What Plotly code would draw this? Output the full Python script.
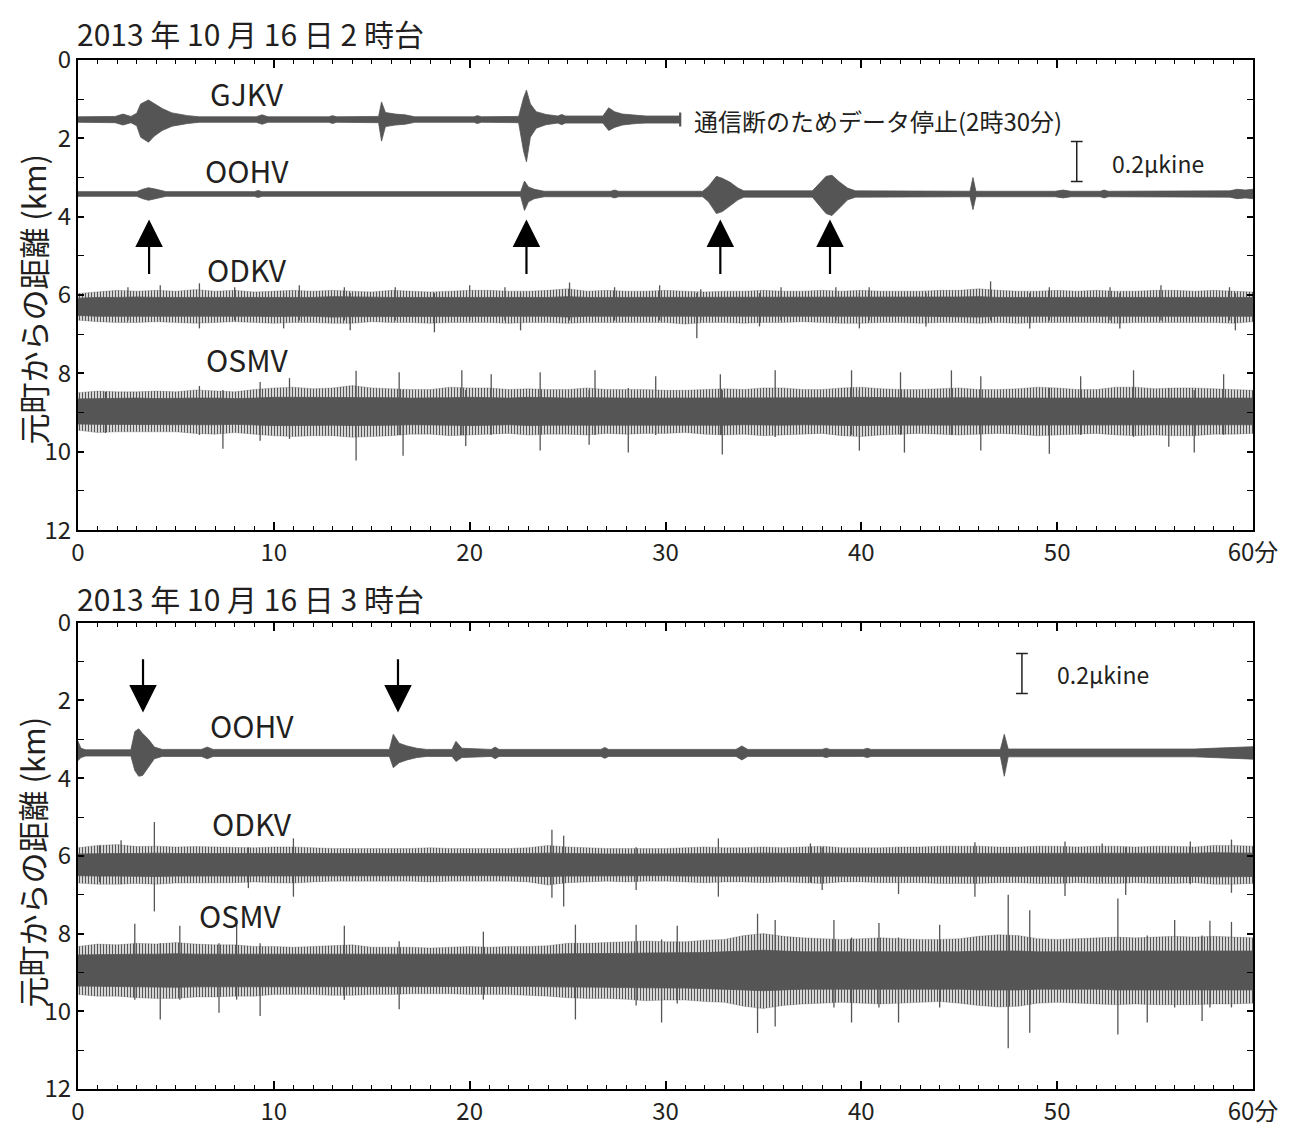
import plotly.graph_objects as go

# ---------------- DATA ----------------
# Top panel: 2013-10-16 02h ; Bottom panel: 03h.  x = minutes, y = distance (km)

# --- top panel, GJKV (baseline 1.52 km, data stops at 30.75 min)
gj_base = 1.52
gj_t    = [0, 1.9, 2.3, 2.7, 3.0, 3.2, 3.6, 3.9, 4.3, 4.8, 5.6, 6.2, 9.1, 9.4, 9.7, 12.8, 13.0, 13.2,
           15.35, 15.5, 15.7, 16.2, 16.7, 17.2, 20.2, 20.4, 20.6, 22.5, 22.75, 22.9, 23.1, 23.4, 23.9,
           24.5, 24.7, 24.9, 26.8, 27.1, 27.4, 27.8, 28.5, 29.0, 30.75]
gj_up   = [0.07, 0.08, 0.14, 0.08, 0.16, 0.40, 0.50, 0.40, 0.28, 0.17, 0.10, 0.07, 0.07, 0.12, 0.07, 0.07, 0.10, 0.07,
           0.08, 0.45, 0.18, 0.14, 0.12, 0.07, 0.07, 0.10, 0.07, 0.08, 0.55, 0.75, 0.40, 0.20, 0.13,
           0.09, 0.13, 0.09, 0.09, 0.30, 0.20, 0.14, 0.10, 0.09, 0.09]
gj_down = [0.07, 0.08, 0.14, 0.08, 0.16, 0.45, 0.58, 0.42, 0.28, 0.17, 0.10, 0.07, 0.07, 0.12, 0.07, 0.07, 0.10, 0.07,
           0.08, 0.55, 0.18, 0.14, 0.12, 0.07, 0.07, 0.10, 0.07, 0.08, 0.80, 1.08, 0.45, 0.22, 0.13,
           0.09, 0.13, 0.09, 0.09, 0.28, 0.20, 0.14, 0.10, 0.09, 0.09]
gj_end  = [30.75, 1.34, 1.70]   # end-of-data tick (time, top km, bottom km)

# --- top panel, OOHV (baseline 3.42 km)
oo1_base = 3.42
oo1_t    = [0, 3.0, 3.3, 3.6, 4.0, 4.5, 9.0, 9.2, 9.4, 22.6, 22.8, 23.0, 23.3, 23.8, 27.2, 27.4, 27.6,
            31.9, 32.2, 32.6, 32.9, 33.3, 33.7, 34.0, 37.5, 37.8, 38.2, 38.5, 38.9, 39.3, 39.7,
            45.55, 45.7, 45.85, 49.9, 50.3, 50.7, 52.2, 52.4, 52.6, 58.8, 59.2, 59.6, 60]
oo1_up   = [0.06, 0.06, 0.12, 0.16, 0.12, 0.06, 0.06, 0.09, 0.06, 0.06, 0.33, 0.18, 0.12, 0.07, 0.07, 0.10, 0.07,
            0.07, 0.20, 0.45, 0.40, 0.30, 0.15, 0.08, 0.08, 0.25, 0.45, 0.48, 0.30, 0.15, 0.08,
            0.07, 0.42, 0.07, 0.07, 0.10, 0.07, 0.07, 0.10, 0.07, 0.08, 0.12, 0.10, 0.12]
oo1_down = [0.06, 0.06, 0.12, 0.16, 0.12, 0.06, 0.06, 0.09, 0.06, 0.06, 0.42, 0.20, 0.12, 0.07, 0.07, 0.10, 0.07,
            0.07, 0.20, 0.50, 0.45, 0.30, 0.15, 0.08, 0.08, 0.25, 0.50, 0.55, 0.35, 0.15, 0.08,
            0.07, 0.40, 0.07, 0.07, 0.10, 0.07, 0.07, 0.10, 0.07, 0.08, 0.12, 0.10, 0.12]

minutes = list(range(61))

# --- top panel, ODKV (baseline 6.30 km): per-minute core / fringe half widths, plus spikes
od1_base = 6.30
od1_core = [0.22, 0.24, 0.24, 0.25, 0.24, 0.24, 0.25, 0.24, 0.24, 0.24, 0.25, 0.24, 0.24, 0.26, 0.25, 0.24,
            0.24, 0.24, 0.24, 0.24, 0.24, 0.25, 0.24, 0.24, 0.24, 0.26, 0.24, 0.24, 0.24, 0.24, 0.24, 0.25,
            0.24, 0.24, 0.25, 0.24, 0.24, 0.24, 0.25, 0.24, 0.24, 0.24, 0.24, 0.24, 0.24, 0.25, 0.26, 0.24,
            0.24, 0.24, 0.24, 0.25, 0.24, 0.24, 0.24, 0.25, 0.24, 0.24, 0.24, 0.24, 0.24]
od1_fr_up = [0.34, 0.38, 0.42, 0.40, 0.42, 0.40, 0.44, 0.40, 0.42, 0.38, 0.40, 0.42, 0.40, 0.42, 0.40, 0.38,
             0.42, 0.40, 0.38, 0.40, 0.42, 0.42, 0.40, 0.40, 0.42, 0.46, 0.40, 0.42, 0.40, 0.40, 0.42, 0.40,
             0.38, 0.40, 0.40, 0.42, 0.40, 0.40, 0.42, 0.40, 0.42, 0.40, 0.40, 0.40, 0.42, 0.42, 0.46, 0.42,
             0.40, 0.40, 0.42, 0.40, 0.42, 0.40, 0.40, 0.42, 0.42, 0.40, 0.42, 0.40, 0.38]
od1_fr_dn = [0.34, 0.38, 0.40, 0.40, 0.38, 0.40, 0.42, 0.40, 0.38, 0.40, 0.42, 0.40, 0.40, 0.42, 0.42, 0.38,
             0.40, 0.40, 0.42, 0.40, 0.40, 0.40, 0.42, 0.40, 0.40, 0.42, 0.40, 0.40, 0.40, 0.40, 0.40, 0.44,
             0.40, 0.40, 0.42, 0.40, 0.40, 0.38, 0.40, 0.42, 0.42, 0.40, 0.40, 0.42, 0.40, 0.40, 0.42, 0.40,
             0.42, 0.40, 0.40, 0.40, 0.40, 0.42, 0.40, 0.40, 0.40, 0.40, 0.40, 0.42, 0.38]
od1_sp_t  = [2.55, 4.2, 6.2, 8.0, 10.5, 11.3, 13.6, 13.9, 16.2, 18.2, 20.0, 21.8, 22.6, 25.1, 27.4, 29.7,
             31.6, 31.8, 34.8, 35.9, 38.7, 39.9, 40.4, 43.3, 46.6, 48.6, 49.6, 52.7, 53.2, 55.3, 58.8, 59.1]
od1_sp_up = [0.50, 0.55, 0.60, 0.50, 0.35, 0.55, 0.50, 0.35, 0.50, 0.35, 0.55, 0.50, 0.35, 0.62, 0.50, 0.55,
             0.35, 0.45, 0.35, 0.50, 0.50, 0.35, 0.50, 0.35, 0.65, 0.35, 0.50, 0.50, 0.35, 0.55, 0.50, 0.35]
od1_sp_dn = [0.35, 0.35, 0.55, 0.35, 0.55, 0.35, 0.35, 0.60, 0.35, 0.65, 0.35, 0.35, 0.60, 0.35, 0.35, 0.35,
             0.80, 0.35, 0.50, 0.35, 0.35, 0.55, 0.35, 0.50, 0.35, 0.55, 0.35, 0.35, 0.55, 0.35, 0.35, 0.60]

# --- top panel, OSMV (baseline 8.97 km)
os1_base = 8.97
os1_core = [0.32, 0.33, 0.33, 0.34, 0.33, 0.34, 0.34, 0.34, 0.33, 0.34, 0.36, 0.36, 0.36, 0.35, 0.36, 0.36,
            0.35, 0.34, 0.34, 0.35, 0.36, 0.35, 0.34, 0.36, 0.35, 0.34, 0.35, 0.34, 0.34, 0.34, 0.34, 0.34,
            0.35, 0.35, 0.34, 0.34, 0.35, 0.34, 0.34, 0.35, 0.36, 0.35, 0.34, 0.34, 0.34, 0.35, 0.34, 0.34,
            0.35, 0.35, 0.34, 0.34, 0.34, 0.35, 0.35, 0.34, 0.35, 0.35, 0.34, 0.34, 0.34]
os1_fr_up = [0.48, 0.52, 0.50, 0.50, 0.52, 0.50, 0.55, 0.52, 0.50, 0.56, 0.60, 0.62, 0.58, 0.60, 0.66, 0.60,
             0.58, 0.56, 0.56, 0.62, 0.60, 0.60, 0.56, 0.58, 0.56, 0.56, 0.60, 0.56, 0.56, 0.56, 0.54, 0.54,
             0.56, 0.58, 0.56, 0.60, 0.60, 0.56, 0.56, 0.60, 0.62, 0.58, 0.56, 0.56, 0.58, 0.60, 0.56, 0.56,
             0.58, 0.62, 0.60, 0.56, 0.56, 0.62, 0.62, 0.58, 0.60, 0.60, 0.58, 0.56, 0.54]
os1_fr_dn = [0.48, 0.54, 0.52, 0.52, 0.52, 0.52, 0.56, 0.58, 0.54, 0.58, 0.62, 0.64, 0.62, 0.62, 0.66, 0.64,
             0.62, 0.58, 0.58, 0.62, 0.60, 0.58, 0.56, 0.60, 0.58, 0.58, 0.60, 0.56, 0.58, 0.56, 0.56, 0.54,
             0.58, 0.60, 0.58, 0.62, 0.60, 0.58, 0.56, 0.62, 0.64, 0.60, 0.58, 0.56, 0.58, 0.60, 0.58, 0.56,
             0.58, 0.62, 0.60, 0.58, 0.56, 0.60, 0.62, 0.60, 0.62, 0.62, 0.58, 0.58, 0.56]
os1_sp_t  = [1.4, 6.2, 7.4, 9.3, 10.8, 14.2, 16.4, 16.6, 19.6, 19.8, 21.1, 23.6, 26.1, 26.4, 28.1, 29.5,
             32.8, 32.9, 35.6, 39.5, 39.9, 42.0, 42.2, 44.6, 46.1, 49.6, 51.2, 53.9, 55.7, 57.0, 58.5]
os1_sp_up = [0.50, 0.65, 0.55, 0.75, 0.85, 1.04, 1.00, 0.55, 1.05, 0.55, 0.95, 1.00, 0.55, 1.05, 0.60, 0.90,
             0.95, 0.55, 1.05, 1.05, 0.55, 1.00, 0.55, 1.05, 0.90, 0.60, 0.90, 1.05, 0.60, 0.55, 0.95]
os1_sp_dn = [0.55, 0.60, 0.95, 0.75, 0.70, 1.25, 0.60, 1.13, 0.60, 0.88, 0.60, 1.00, 0.85, 0.60, 1.05, 0.60,
             0.60, 1.10, 0.65, 0.60, 1.00, 0.60, 1.05, 0.60, 1.00, 1.08, 0.60, 0.65, 0.90, 1.05, 0.60]

# --- bottom panel, OOHV (baseline 3.35 km)
oo2_base = 3.35
oo2_t    = [0, 0.15, 0.4, 2.7, 2.9, 3.1, 3.3, 3.6, 3.9, 4.3, 6.3, 6.6, 6.9, 15.9, 16.1, 16.4, 16.8, 17.3, 17.8,
            19.1, 19.3, 19.6, 21.1, 21.3, 21.5, 26.7, 26.9, 27.1, 33.6, 33.9, 34.2, 38.0, 38.2, 38.4,
            40.1, 40.3, 40.5, 47.1, 47.3, 47.5, 48.0, 57.0, 58.5, 60]
oo2_up   = [0.30, 0.12, 0.08, 0.08, 0.55, 0.62, 0.50, 0.35, 0.15, 0.09, 0.09, 0.15, 0.09, 0.09, 0.48, 0.25, 0.18,
            0.12, 0.09, 0.09, 0.30, 0.12, 0.09, 0.15, 0.09, 0.09, 0.14, 0.09, 0.09, 0.18, 0.09, 0.09, 0.12,
            0.09, 0.09, 0.12, 0.09, 0.09, 0.48, 0.10, 0.10, 0.10, 0.13, 0.16]
oo2_down = [0.20, 0.12, 0.08, 0.08, 0.45, 0.60, 0.58, 0.35, 0.15, 0.09, 0.09, 0.15, 0.09, 0.09, 0.38, 0.25, 0.18,
            0.12, 0.09, 0.09, 0.22, 0.12, 0.09, 0.15, 0.09, 0.09, 0.14, 0.09, 0.09, 0.18, 0.09, 0.09, 0.12,
            0.09, 0.09, 0.12, 0.09, 0.09, 0.60, 0.10, 0.10, 0.10, 0.13, 0.16]

# --- bottom panel, ODKV (baseline 6.23 km)
od2_base = 6.23
od2_core = [0.28, 0.29, 0.29, 0.29, 0.30, 0.29, 0.29, 0.29, 0.29, 0.28, 0.29, 0.29, 0.29, 0.28, 0.28, 0.29,
            0.28, 0.28, 0.29, 0.28, 0.28, 0.28, 0.28, 0.29, 0.30, 0.29, 0.28, 0.28, 0.28, 0.28, 0.28, 0.29,
            0.29, 0.29, 0.29, 0.30, 0.29, 0.29, 0.30, 0.29, 0.29, 0.29, 0.29, 0.29, 0.30, 0.30, 0.30, 0.29,
            0.29, 0.30, 0.30, 0.29, 0.30, 0.30, 0.30, 0.30, 0.30, 0.30, 0.31, 0.31, 0.30]
od2_fr_up = [0.44, 0.50, 0.52, 0.47, 0.48, 0.46, 0.47, 0.46, 0.44, 0.44, 0.46, 0.46, 0.44, 0.42, 0.42, 0.42,
             0.42, 0.42, 0.44, 0.42, 0.42, 0.42, 0.42, 0.44, 0.50, 0.46, 0.44, 0.42, 0.42, 0.42, 0.42, 0.44,
             0.46, 0.44, 0.44, 0.46, 0.44, 0.46, 0.48, 0.44, 0.44, 0.44, 0.46, 0.46, 0.48, 0.48, 0.48, 0.46,
             0.46, 0.48, 0.48, 0.46, 0.48, 0.48, 0.46, 0.48, 0.48, 0.46, 0.50, 0.50, 0.48]
od2_fr_dn = [0.47, 0.50, 0.50, 0.48, 0.50, 0.47, 0.47, 0.46, 0.46, 0.44, 0.46, 0.47, 0.44, 0.42, 0.42, 0.42,
             0.42, 0.42, 0.44, 0.42, 0.42, 0.42, 0.42, 0.44, 0.52, 0.46, 0.44, 0.42, 0.44, 0.42, 0.42, 0.44,
             0.46, 0.44, 0.44, 0.46, 0.44, 0.46, 0.48, 0.44, 0.44, 0.46, 0.46, 0.46, 0.48, 0.48, 0.48, 0.46,
             0.46, 0.48, 0.48, 0.46, 0.48, 0.48, 0.46, 0.48, 0.48, 0.46, 0.50, 0.50, 0.48]
od2_sp_t  = [1.1, 2.2, 3.9, 8.7, 11.0, 24.2, 24.8, 28.5, 32.7, 37.4, 38.0, 41.9, 45.8, 50.4, 52.3, 53.5, 56.8, 58.9]
od2_sp_up = [0.50, 0.63, 1.10, 0.45, 0.68, 0.90, 0.75, 0.45, 0.68, 0.55, 0.45, 0.45, 0.58, 0.60, 0.55, 0.45, 0.60, 0.65]
od2_sp_dn = [0.45, 0.50, 1.20, 0.60, 0.82, 0.85, 1.07, 0.65, 0.82, 0.45, 0.65, 0.75, 0.82, 0.80, 0.45, 0.78, 0.50, 0.72]

# --- bottom panel, OSMV (baseline 8.95 km)
os2_base = 8.95
os2_core = [0.40, 0.41, 0.41, 0.42, 0.42, 0.43, 0.42, 0.42, 0.42, 0.41, 0.41, 0.41, 0.41, 0.42, 0.42, 0.41,
            0.41, 0.41, 0.41, 0.41, 0.41, 0.41, 0.41, 0.41, 0.42, 0.43, 0.43, 0.43, 0.44, 0.45, 0.45, 0.45,
            0.46, 0.48, 0.50, 0.52, 0.50, 0.48, 0.48, 0.48, 0.48, 0.48, 0.48, 0.48, 0.48, 0.48, 0.50, 0.50,
            0.50, 0.48, 0.48, 0.48, 0.48, 0.50, 0.50, 0.50, 0.50, 0.50, 0.50, 0.50, 0.50]
os2_fr_up = [0.62, 0.68, 0.66, 0.70, 0.68, 0.72, 0.68, 0.66, 0.66, 0.62, 0.62, 0.60, 0.62, 0.64, 0.66, 0.60,
             0.60, 0.60, 0.58, 0.60, 0.62, 0.60, 0.62, 0.62, 0.64, 0.70, 0.70, 0.72, 0.74, 0.76, 0.74, 0.74,
             0.78, 0.80, 0.90, 0.95, 0.88, 0.84, 0.82, 0.80, 0.82, 0.84, 0.82, 0.80, 0.80, 0.82, 0.88, 0.92,
             0.90, 0.82, 0.80, 0.82, 0.84, 0.86, 0.84, 0.86, 0.88, 0.86, 0.88, 0.86, 0.84]
os2_fr_dn = [0.62, 0.66, 0.66, 0.70, 0.72, 0.72, 0.68, 0.68, 0.66, 0.66, 0.62, 0.62, 0.62, 0.64, 0.64, 0.62,
             0.62, 0.60, 0.60, 0.60, 0.62, 0.62, 0.62, 0.64, 0.66, 0.70, 0.72, 0.72, 0.74, 0.78, 0.76, 0.76,
             0.80, 0.82, 0.92, 0.98, 0.90, 0.86, 0.84, 0.82, 0.84, 0.86, 0.84, 0.82, 0.80, 0.84, 0.90, 0.94,
             0.92, 0.84, 0.82, 0.84, 0.86, 0.88, 0.86, 0.88, 0.88, 0.88, 0.86, 0.86, 0.84]
os2_sp_t  = [2.9, 4.2, 5.2, 7.2, 8.1, 9.3, 13.6, 16.4, 20.7, 25.4, 28.5, 29.8, 30.6, 34.7, 35.6, 38.6, 39.5,
             40.9, 41.9, 44.0, 47.5, 48.6, 53.1, 54.6, 56.0, 57.4, 57.8, 58.9]
os2_sp_up = [1.20, 0.70, 1.15, 0.70, 1.18, 0.70, 1.15, 0.75, 1.00, 1.18, 1.18, 0.80, 1.15, 1.46, 1.30, 1.30, 0.85,
             1.22, 0.85, 1.18, 1.95, 1.55, 1.85, 0.90, 1.30, 0.90, 1.28, 1.25]
os2_sp_dn = [0.75, 1.26, 0.75, 1.09, 0.75, 1.17, 0.75, 1.00, 0.75, 1.26, 0.90, 1.34, 0.85, 1.61, 1.44, 0.95, 1.34,
             0.95, 1.34, 0.95, 2.00, 1.60, 1.65, 1.34, 0.95, 1.30, 0.95, 0.95]

# arrows: (time, tail km, tip km)
arr1_t = [3.63, 22.9, 32.8, 38.4]
arr1_tail, arr1_tip = 5.5, 4.07
arr2_t = [3.32, 16.34]
arr2_tail, arr2_tip = 0.9, 2.31

# scale bars: (time, top km, bottom km)
bar1 = [51.0, 2.08, 3.10]
bar2 = [48.2, 0.79, 1.82]

# tick labels
x_tickvals = [0, 10, 20, 30, 40, 50, 60]
x_ticktext = ["0", "10", "20", "30", "40", "50", "60分"]
y_tickvals = [0, 2, 4, 6, 8, 10, 12]

titles = ["2013 年 10 月 16 日 2 時台", "2013 年 10 月 16 日 3 時台"]
ytitle = "元町からの距離 (km)"

# ---------------- FIGURE ----------------
FONT = "Noto Sans CJK JP"
TRACE = "#555555"
INK = "#231f20"

fig = go.Figure()


def band(t, up, dn, base, xa, ya, pattern=False, lw=0.8):
    xs = list(t) + list(t)[::-1]
    ys = [base - u for u in up] + [base + d for d in dn][::-1]
    kw = {}
    if pattern:
        kw["fillpattern"] = dict(shape="|", size=3, solidity=0.5, fgcolor=TRACE, bgcolor="white",
                                 fillmode="replace")
        line = dict(color="rgba(85,85,85,0.45)", width=0.6)
    else:
        kw["fillcolor"] = TRACE
        line = dict(color=TRACE, width=lw)
    fig.add_trace(go.Scatter(x=xs, y=ys, fill="toself", mode="lines", line=line,
                             hoverinfo="skip", showlegend=False, xaxis=xa, yaxis=ya, **kw))


def spikes(ts, ups, dns, base, xa, ya, color=TRACE, lw=1.3):
    xs, ys = [], []
    for t, u, d in zip(ts, ups, dns):
        xs += [t, t, None]
        ys += [base - u, base + d, None]
    fig.add_trace(go.Scatter(x=xs, y=ys, mode="lines", line=dict(color=color, width=lw),
                             hoverinfo="skip", showlegend=False, xaxis=xa, yaxis=ya))


# top panel
band(gj_t, gj_up, gj_down, gj_base, "x", "y")
fig.add_trace(go.Scatter(x=[gj_end[0], gj_end[0]], y=[gj_end[1], gj_end[2]], mode="lines",
                         line=dict(color=TRACE, width=2.2), showlegend=False, xaxis="x", yaxis="y"))
band(oo1_t, oo1_up, oo1_down, oo1_base, "x", "y")
band(minutes, od1_fr_up, od1_fr_dn, od1_base, "x", "y", pattern=True)
spikes(od1_sp_t, od1_sp_up, od1_sp_dn, od1_base, "x", "y")
band(minutes, od1_core, od1_core, od1_base, "x", "y")
band(minutes, os1_fr_up, os1_fr_dn, os1_base, "x", "y", pattern=True)
spikes(os1_sp_t, os1_sp_up, os1_sp_dn, os1_base, "x", "y")
band(minutes, os1_core, os1_core, os1_base, "x", "y")

# bottom panel
band(oo2_t, oo2_up, oo2_down, oo2_base, "x2", "y2")
band(minutes, od2_fr_up, od2_fr_dn, od2_base, "x2", "y2", pattern=True)
spikes(od2_sp_t, od2_sp_up, od2_sp_dn, od2_base, "x2", "y2")
band(minutes, od2_core, od2_core, od2_base, "x2", "y2")
band(minutes, os2_fr_up, os2_fr_dn, os2_base, "x2", "y2", pattern=True)
spikes(os2_sp_t, os2_sp_up, os2_sp_dn, os2_base, "x2", "y2")
band(minutes, os2_core, os2_core, os2_base, "x2", "y2")

# scale bars
for bar, xa, ya in [(bar1, "x", "y"), (bar2, "x2", "y2")]:
    t, y0, y1 = bar
    fig.add_trace(go.Scatter(x=[t, t, None, t - 0.3, t + 0.3, None, t - 0.3, t + 0.3],
                             y=[y0, y1, None, y0, y0, None, y1, y1], mode="lines",
                             line=dict(color="#222222", width=1.5), showlegend=False,
                             hoverinfo="skip", xaxis=xa, yaxis=ya))

# axes
TOP_DOM = [0.5431, 1.0]
BOT_DOM = [0.0, 0.4531]
tickfont = dict(family=FONT, size=24, color=INK)


def xaxis(anchor):
    return dict(range=[0, 60], domain=[0, 1], anchor=anchor, showgrid=False, zeroline=False,
                showline=True, linecolor="black", linewidth=2, mirror="ticks",
                ticks="inside", ticklen=8, tickwidth=1.5, tickcolor="black",
                tickvals=x_tickvals, ticktext=x_ticktext, tickfont=tickfont,
                minor=dict(dtick=1, tick0=0, ticks="inside", ticklen=4, tickwidth=1, tickcolor="black"))


def yaxis(anchor, dom):
    return dict(range=[12, 0], domain=dom, anchor=anchor, showgrid=False, zeroline=False,
                showline=True, linecolor="black", linewidth=2, mirror="ticks",
                ticks="inside", ticklen=6, tickwidth=1.5, tickcolor="black",
                tickvals=y_tickvals, tickfont=tickfont,
                minor=dict(dtick=1, tick0=0, ticks="inside", ticklen=6, tickwidth=1, tickcolor="black"))


fig.update_layout(
    width=1307, height=1131,
    margin=dict(l=70, r=62, t=52, b=46),
    paper_bgcolor="white", plot_bgcolor="white",
    font=dict(family=FONT, color=INK),
    xaxis=xaxis("y"), yaxis=yaxis("x", TOP_DOM),
    xaxis2=xaxis("y2"), yaxis2=yaxis("x2", BOT_DOM),
    showlegend=False,
)

ann = []
# panel titles
ann.append(dict(text=titles[0], xref="paper", yref="paper", x=-0.002, y=1.0265, xanchor="left",
                yanchor="middle", showarrow=False, borderpad=0,
                font=dict(family=FONT, size=30, color=INK)))
ann.append(dict(text=titles[1], xref="paper", yref="paper", x=-0.002, y=0.4773, xanchor="left",
                yanchor="middle", showarrow=False, borderpad=0,
                font=dict(family=FONT, size=30, color=INK)))
# y titles
for yc in [0.7677, 0.2207]:
    ann.append(dict(text=ytitle, xref="paper", yref="paper", x=-0.0395, y=yc, xanchor="center",
                    yanchor="middle", textangle=-90, showarrow=False, borderpad=0,
                    font=dict(family=FONT, size=31, color=INK)))
# station labels
lab = dict(family=FONT, size=30, color=INK)
for txt, x, y, xa, ya in [("GJKV", 8.63, 0.84, "x", "y"), ("OOHV", 8.63, 2.8, "x", "y"),
                          ("ODKV", 8.63, 5.34, "x", "y"), ("OSMV", 8.63, 7.63, "x", "y"),
                          ("OOHV", 8.9, 2.64, "x2", "y2"), ("ODKV", 8.9, 5.15, "x2", "y2"),
                          ("OSMV", 8.3, 7.51, "x2", "y2")]:
    ann.append(dict(text=txt, x=x, y=y, xref=xa, yref=ya, showarrow=False, font=lab,
                    xanchor="center", yanchor="middle"))
ann.append(dict(text="通信断のためデータ停止(2時30分)", x=31.36, y=1.55, xref="x", yref="y",
                showarrow=False, xanchor="left", yanchor="middle",
                font=dict(family=FONT, size=24, color=INK)))
ann.append(dict(text="0.2μkine", x=52.7, y=2.62, xref="x", yref="y", showarrow=False,
                xanchor="left", yanchor="middle", font=dict(family=FONT, size=23, color=INK)))
ann.append(dict(text="0.2μkine", x=49.9, y=1.33, xref="x2", yref="y2", showarrow=False,
                xanchor="left", yanchor="middle", font=dict(family=FONT, size=23, color=INK)))
# arrows
for t in arr1_t:
    ann.append(dict(x=t, y=arr1_tip, ax=t, ay=arr1_tail, xref="x", yref="y", axref="x", ayref="y",
                    showarrow=True, arrowhead=2, arrowsize=2.5, arrowwidth=2.2, arrowcolor="black", text=""))
for t in arr2_t:
    ann.append(dict(x=t, y=arr2_tip, ax=t, ay=arr2_tail, xref="x2", yref="y2", axref="x2", ayref="y2",
                    showarrow=True, arrowhead=2, arrowsize=2.5, arrowwidth=2.2, arrowcolor="black", text=""))
fig.update_layout(annotations=ann)

fig.write_html("out.html")
